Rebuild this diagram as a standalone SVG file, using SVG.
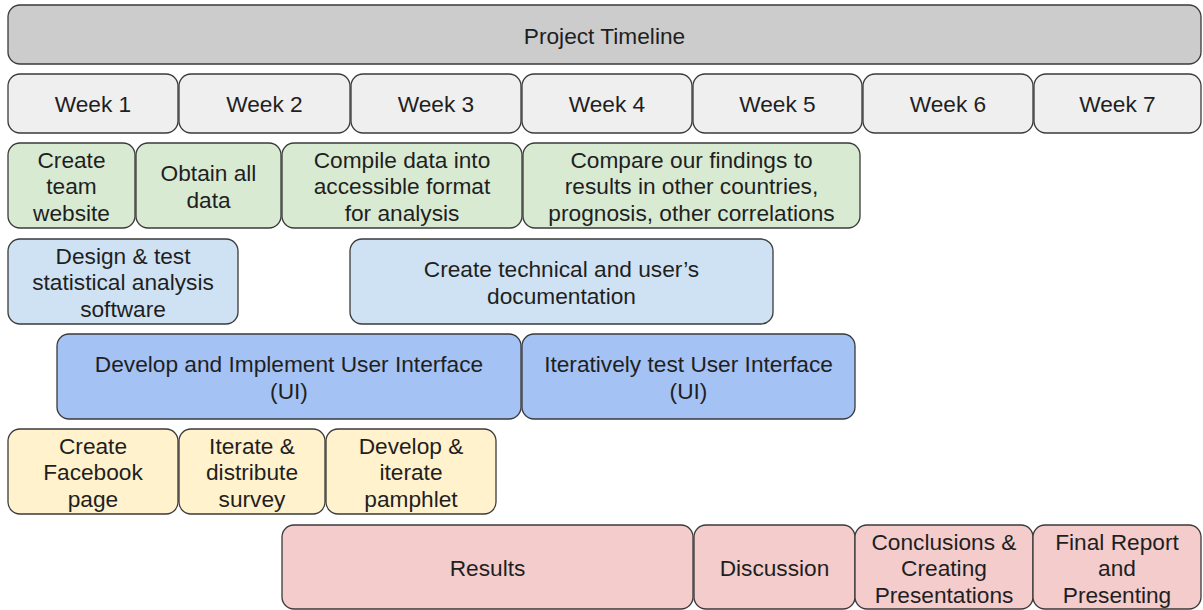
<svg xmlns="http://www.w3.org/2000/svg" width="1203" height="610" viewBox="0 0 1203 610">
<style>
rect{stroke:#3a3a3a;stroke-width:1.3}
text{font-family:"Liberation Sans",Arial,sans-serif;font-size:22.7px;fill:#1f1f1f;text-anchor:middle;dominant-baseline:central}
.t{fill:#cccccc}.w{fill:#efefef}.g{fill:#d9ead3}.lb{fill:#cfe2f3}.b{fill:#a4c2f4}.y{fill:#fff2cc}.r{fill:#f4cccc}
</style>
<rect width="1203" height="610" fill="#ffffff" style="stroke:none"/>
<g id="title"><rect class="t" x="8" y="5" width="1193" height="59" rx="12"/><text x="604.5" y="36">Project Timeline</text></g>
<g id="week1"><rect class="w" x="8" y="74" width="170" height="59" rx="12"/><text x="93" y="104">Week 1</text></g>
<g id="week2"><rect class="w" x="179" y="74" width="171" height="59" rx="12"/><text x="264.5" y="104">Week 2</text></g>
<g id="week3"><rect class="w" x="351" y="74" width="170" height="59" rx="12"/><text x="436" y="104">Week 3</text></g>
<g id="week4"><rect class="w" x="522" y="74" width="170" height="59" rx="12"/><text x="607" y="104">Week 4</text></g>
<g id="week5"><rect class="w" x="693" y="74" width="169" height="59" rx="12"/><text x="777.5" y="104">Week 5</text></g>
<g id="week6"><rect class="w" x="863" y="74" width="170" height="59" rx="12"/><text x="948" y="104">Week 6</text></g>
<g id="week7"><rect class="w" x="1034" y="74" width="167" height="59" rx="12"/><text x="1117.5" y="104">Week 7</text></g>

<g id="website"><rect class="g" x="8" y="143" width="127" height="85" rx="12"/><text x="71.5" y="159.5">Create</text><text x="71.5" y="186">team</text><text x="71.5" y="212.5">website</text></g>
<g id="obtain"><rect class="g" x="136" y="143" width="145" height="85" rx="12"/><text x="208.5" y="173">Obtain all</text><text x="208.5" y="199.5">data</text></g>
<g id="compile"><rect class="g" x="282" y="143" width="240" height="85" rx="12"/><text x="402" y="159.5">Compile data into</text><text x="402" y="186">accessible format</text><text x="402" y="212.5">for analysis</text></g>
<g id="compare"><rect class="g" x="523" y="143" width="337" height="85" rx="12"/><text x="691.5" y="159.5">Compare our findings to</text><text x="691.5" y="186">results in other countries,</text><text x="691.5" y="212.5">prognosis, other correlations</text></g>

<g id="design"><rect class="lb" x="8" y="239" width="230" height="85" rx="12"/><text x="123" y="255.5">Design &amp; test</text><text x="123" y="282">statistical analysis</text><text x="123" y="308.5">software</text></g>
<g id="docs"><rect class="lb" x="350" y="239" width="423" height="85" rx="12"/><text x="561.5" y="269">Create technical and user’s</text><text x="561.5" y="295.5">documentation</text></g>

<g id="develop-ui"><rect class="b" x="57" y="334" width="464" height="85" rx="12"/><text x="289" y="364">Develop and Implement User Interface</text><text x="289" y="390.5">(UI)</text></g>
<g id="test-ui"><rect class="b" x="522" y="334" width="333" height="85" rx="12"/><text x="688.5" y="364">Iteratively test User Interface</text><text x="688.5" y="390.5">(UI)</text></g>

<g id="facebook"><rect class="y" x="8" y="429" width="170" height="85" rx="12"/><text x="93" y="445.5">Create</text><text x="93" y="472">Facebook</text><text x="93" y="498.5">page</text></g>
<g id="survey"><rect class="y" x="179" y="429" width="146" height="85" rx="12"/><text x="252" y="445.5">Iterate &amp;</text><text x="252" y="472">distribute</text><text x="252" y="498.5">survey</text></g>
<g id="pamphlet"><rect class="y" x="326" y="429" width="170" height="85" rx="12"/><text x="411" y="445.5">Develop &amp;</text><text x="411" y="472">iterate</text><text x="411" y="498.5">pamphlet</text></g>

<g id="results"><rect class="r" x="282" y="525" width="411" height="84" rx="12"/><text x="487.5" y="568">Results</text></g>
<g id="discussion"><rect class="r" x="694" y="525" width="161" height="84" rx="12"/><text x="774.5" y="568">Discussion</text></g>
<g id="conclusions"><rect class="r" x="855" y="525" width="178" height="84" rx="12"/><text x="944" y="541.5">Conclusions &amp;</text><text x="944" y="568">Creating</text><text x="944" y="594.5">Presentations</text></g>
<g id="final"><rect class="r" x="1033" y="525" width="168" height="84" rx="12"/><text x="1117" y="541.5">Final Report</text><text x="1117" y="568">and</text><text x="1117" y="594.5">Presenting</text></g>
<g id="connectors"></g>
</svg>
